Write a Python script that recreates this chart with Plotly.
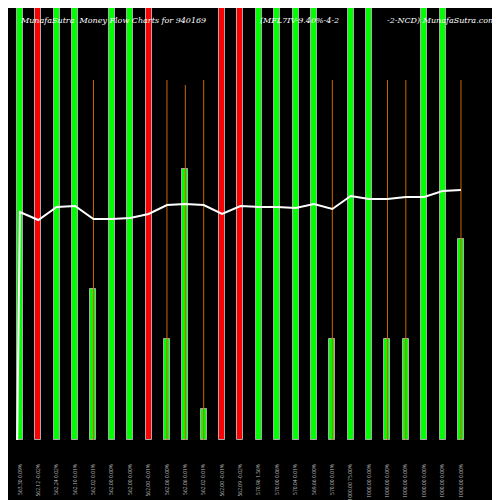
import plotly.graph_objects as go

# bar data (full bars = 440)
heights = [440, 440, 440, 440, 151, 440, 440, 440, 101, 271, 31, 440, 440,
           440, 440, 440, 440, 101, 440, 440, 101, 101, 440, 440, 201]
colors = ['g', 'r', 'g', 'g', 'g', 'g', 'g', 'r', 'g', 'g', 'g', 'r', 'r',
          'g', 'g', 'g', 'g', 'g', 'g', 'g', 'g', 'g', 'g', 'g', 'g']
line_vals = [228, 220, 233, 234, 221, 221, 222, 226, 235, 236, 235, 226, 234,
             233, 233, 232, 236, 231, 244, 241, 241, 243, 243, 249, 250]
wick_top = [None, None, None, None, 360, None, None, None, 360, 355, 360, None, None,
            None, None, None, None, 360, None, None, 360, 360, None, None, 360]
labels = ['563.30 0.09%', '562.12 -0.02%', '562.24 0.02%', '562.10 0.01%',
          '562.02 0.01%', '562.00 0.00%', '562.00 0.00%', '562.00 -0.01%',
          '562.06 0.00%', '562.06 0.01%', '562.02 0.01%', '562.00 -0.01%',
          '562.09 -0.02%', '570.96 1.56%', '570.00 0.06%', '570.04 0.01%',
          '569.66 0.00%', '570.00 0.01%', '1000.00 75.00%', '1000.00 0.00%',
          '1000.00 0.00%', '1000.00 0.00%', '1000.00 0.00%', '1000.00 0.00%',
          '1000.00 0.00%']

x = list(range(len(heights)))
cmap = {'g': '#00ff00', 'r': '#ff0000'}

fig = go.Figure()
# thin orange lines behind bars
for i, w in enumerate(wick_top):
    if w is not None:
        fig.add_trace(go.Scatter(x=[i, i], y=[0, w], mode='lines',
                                 line=dict(color='#cc6600', width=1), showlegend=False))
fig.add_trace(go.Bar(x=x, y=heights, marker_color=[cmap[c] for c in colors],
                     marker_line=dict(color='#aaaaaa', width=1), width=0.33,
                     showlegend=False))
fig.add_trace(go.Scatter(x=[-0.15] + x, y=[0] + line_vals, mode='lines',
                         line=dict(color='white', width=2), showlegend=False))

title_font = dict(family='DejaVu Serif', size=8, color='white')
for tx, txt, anchor in [(0.02, 'MunafaSutra  Money Flow Charts for 940169', 'left'),
                        (0.5, '(MFL7IV-9.40%-4-2', 'left'),
                        (0.98, '-2-NCD) MunafaSutra.com', 'right')]:
    fig.add_annotation(x=tx, y=420, xref='paper', yref='y', text='<i>' + txt + '</i>',
                       showarrow=False, xanchor=anchor, font=title_font)

fig.update_layout(
    width=500, height=500, paper_bgcolor='black', plot_bgcolor='black',
    margin=dict(l=0, r=0, t=0, b=68, pad=0), bargap=0,
    xaxis=dict(range=[-0.65, 26.56], tickmode='array', tickvals=x, ticktext=labels,
               tickangle=-90, tickfont=dict(size=5, color='#bbbbbb'),
               showgrid=False, zeroline=False, ticklen=0, automargin=False,
               ticklabelstandoff=22),
    yaxis=dict(range=[0, 432], visible=False, showgrid=False, automargin=False),
)
fig.write_html("out.html")
